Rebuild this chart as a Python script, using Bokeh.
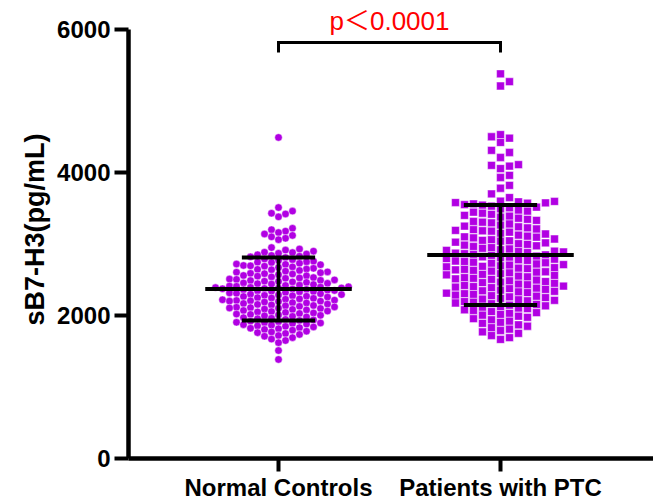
import numpy as np
from bokeh.plotting import figure
from bokeh.models import Range1d, FixedTicker, Label, Title
from bokeh.embed import file_html
from bokeh.resources import INLINE

# ---------------- data ----------------
categories = ["Normal Controls", "Patients with PTC"]
y_axis_title = "sB7-H3(pg/mL)"
y_ticks = [0, 2000, 4000, 6000]
p_label = "p\uff1c0.0001"

normal_controls = [
    4490,
    3510, 3460, 3430, 3420, 3380,
    3220, 3200, 3180, 3160, 3140, 3120, 3100, 3080, 3060,
    2950, 2930, 2915,
    2900, 2885, 2880, 2870, 2860, 2850, 2840, 2830, 2820, 2810,
    2790, 2780, 2770, 2760, 2750, 2745, 2740, 2730, 2720, 2715, 2710, 2700,
    2695, 2690, 2680, 2670, 2660, 2650, 2645, 2640, 2630, 2620, 2610, 2605,
    2598, 2590, 2585, 2580, 2570, 2560, 2555, 2550, 2540, 2530, 2525, 2520, 2510, 2505,
    2498, 2492, 2488, 2480, 2475, 2470, 2462, 2455, 2450, 2445, 2440, 2432, 2425, 2420, 2412, 2408, 2402,
    2398, 2394, 2390, 2386, 2382, 2378, 2374, 2370, 2365, 2360, 2355, 2350, 2345, 2340, 2335, 2330, 2322, 2315, 2310, 2304,
    2298, 2292, 2288, 2282, 2276, 2270, 2265, 2258, 2250, 2245, 2240, 2232, 2228, 2220, 2215, 2210, 2205, 2202, 2200,
    2195, 2188, 2180, 2175, 2168, 2160, 2155, 2148, 2140, 2135, 2128, 2120, 2115, 2110, 2105, 2102,
    2098, 2090, 2085, 2078, 2070, 2062, 2055, 2050, 2042, 2035, 2028, 2020, 2015, 2008, 2002,
    1995, 1988, 1980, 1970, 1962, 1955, 1945, 1938, 1930, 1920, 1912, 1905, 1900,
    1895, 1888, 1880, 1872, 1865, 1855, 1848, 1840, 1830, 1822, 1815, 1805,
    1795, 1780, 1770, 1760, 1748, 1735, 1720, 1710,
    1690, 1670, 1650, 1620,
    1510, 1385,
]

patients_ptc = [
    5380, 5270, 5210,
    4530, 4500, 4480, 4420,
    4310, 4280, 4210,
    4110, 4100, 4090, 4055,
    3960, 3930,
    3820, 3780, 3700, 3650,
    3600, 3595, 3590, 3580, 3575, 3570, 3560, 3550, 3545, 3530, 3515, 3505,
    3490, 3475, 3460, 3445, 3430, 3415, 3400,
    3390, 3375, 3360, 3345, 3330, 3315, 3305,
    3295, 3280, 3265, 3250, 3240, 3225, 3210, 3200,
    3190, 3185, 3180, 3165, 3150, 3140, 3125, 3110, 3100,
    3095, 3085, 3070, 3060, 3050, 3045, 3040, 3025, 3015, 3005,
    2995, 2985, 2975, 2965, 2950, 2940, 2930, 2920, 2910, 2900,
    2895, 2888, 2880, 2872, 2865, 2855, 2848, 2840, 2830, 2822, 2815, 2805,
    2795, 2788, 2780, 2770, 2762, 2755, 2745, 2738, 2730, 2720, 2712, 2705,
    2695, 2688, 2680, 2670, 2662, 2655, 2645, 2638, 2630, 2620, 2612, 2605,
    2595, 2585, 2575, 2568, 2560, 2550, 2540, 2530, 2520, 2512, 2505,
    2495, 2485, 2475, 2468, 2460, 2450, 2440, 2430, 2420, 2412, 2405,
    2398, 2390, 2382, 2375, 2365, 2355, 2345, 2338, 2330, 2320, 2312, 2305,
    2295, 2285, 2278, 2270, 2260, 2250, 2240, 2230, 2220, 2212, 2205,
    2195, 2185, 2175, 2165, 2155, 2145, 2135, 2125, 2115, 2105,
    2095, 2080, 2070, 2055, 2040, 2030, 2015, 2005,
    1990, 1975, 1955, 1940, 1920, 1905,
    1890, 1870, 1850, 1830, 1810,
    1790, 1770, 1750, 1720,
    1690, 1665,
]

# ---------------- layout ----------------
W, H = 653, 504
LEFT, BOTTOM = 128, 46
frame_w = W - LEFT
frame_h = H - BOTTOM
px_per_val = 429.0 / 6000.0
px_per_x = 222.0
y_end = frame_h / px_per_val
x_start = 1 - (278 - LEFT) / px_per_x
x_end = x_start + frame_w / px_per_x

PURPLE = "#B100E3"
FONT = "Liberation Sans"


def swarm(vals, col_px, gap_px):
    """Column-based dot-plot layout: returns x offsets (data units)."""
    vals = np.asarray(vals, dtype=float)
    order = np.argsort(vals)
    offs = np.zeros(len(vals))
    last = {}
    cand = [0]
    for k in range(1, 40):
        cand += [k, -k]
    for i in order:
        py = vals[i] * px_per_val
        for c in cand:
            if py - last.get(c, -1e9) >= gap_px:
                last[c] = py
                offs[i] = c * col_px / px_per_x
                break
    return offs


p = figure(width=W, height=H, output_backend="svg", toolbar_location=None,
           x_range=Range1d(x_start, x_end), y_range=Range1d(0, y_end),
           min_border_left=LEFT, min_border_right=0, min_border_top=0,
           min_border_bottom=BOTTOM)
p.outline_line_color = None
p.grid.visible = False
p.background_fill_color = "white"
p.border_fill_color = "white"

groups = [normal_controls, patients_ptc]
markers = ["circle", "square"]
sizes = [7.5, 7.8]
cols = [7.0, 9.0]
gaps = [6.6, 7.8]

for gi, vals in enumerate(groups):
    cx = gi + 1
    xs = cx + swarm(vals, cols[gi], gaps[gi])
    p.scatter(xs, vals, marker=markers[gi], size=sizes[gi],
              fill_color=PURPLE, line_color="white", line_alpha=0.55,
              line_width=0.8)

for gi, vals in enumerate(groups):
    cx = gi + 1
    m = float(np.mean(vals))
    s = float(np.std(vals, ddof=1))
    p.segment([cx - 0.33], [m], [cx + 0.33], [m], line_color="black",
              line_width=4)
    p.segment([cx - 0.165, cx - 0.165], [m - s, m + s],
              [cx + 0.165, cx + 0.165], [m - s, m + s],
              line_color="black", line_width=4)
    p.segment([cx], [m - s], [cx], [m + s], line_color="black", line_width=3.5)

# significance bracket
br_top = 5818
br_bot = 5680
p.line([1, 1, 2, 2], [br_bot, br_top, br_top, br_bot], line_color="black",
       line_width=3, line_join="miter")
p.add_layout(Label(x=1.5, y=6112, text=p_label, text_color="#FF0000",
                   text_font="Liberation Sans, Noto Sans CJK SC",
                   text_font_size="26px", text_align="center",
                   text_baseline="middle"))

# y axis
ya = p.yaxis[0]
ya.ticker = FixedTicker(ticks=y_ticks)
ya.bounds = (0, 6000)
ya.axis_line_width = 4.5
ya.major_tick_line_width = 4
ya.major_tick_out = 14
ya.major_tick_in = 0
ya.minor_tick_line_color = None
ya.major_label_text_font = FONT
ya.major_label_text_font_style = "bold"
ya.major_label_text_font_size = "24px"
ya.major_label_text_color = "black"
ya.major_label_standoff = 4

# x axis
xa = p.xaxis[0]
xa.ticker = FixedTicker(ticks=[1, 2])
xa.major_label_overrides = {1: categories[0], 2: categories[1]}
xa.axis_line_width = 4.5
xa.major_tick_line_width = 4
xa.major_tick_out = 13
xa.major_tick_in = 0
xa.minor_tick_line_color = None
xa.major_label_text_font = FONT
xa.major_label_text_font_style = "bold"
xa.major_label_text_font_size = "24px"
xa.major_label_text_color = "black"
xa.major_label_standoff = 2

# y axis title in the left margin
p.add_layout(Title(text=y_axis_title, align="center", offset=-21,
                   text_font=FONT, text_font_style="bold",
                   text_font_size="27px", text_color="black"), "left")

open("out.html", "w").write(file_html(p, INLINE))
